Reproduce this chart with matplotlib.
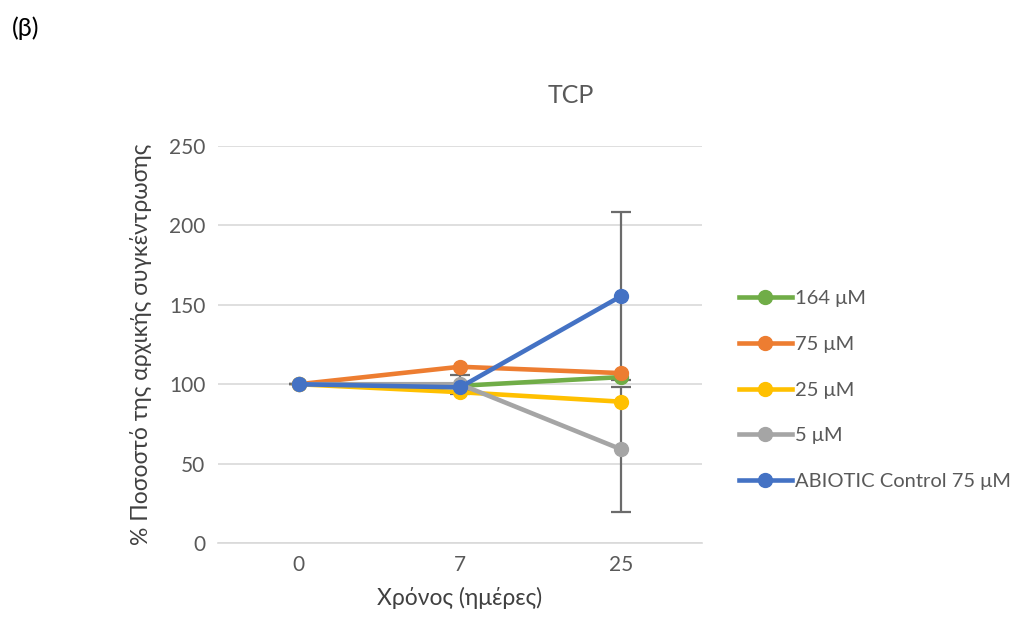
import matplotlib
matplotlib.use("Agg")
import matplotlib.pyplot as plt
import numpy as np

plt.rcParams['font.family'] = ['Lato', 'DejaVu Sans']

days = ["0", "7", "25"]
labels = ["164 μM", "75 μM", "25 μM", "5 μM", "ABIOTIC Control 75 μM"]
green = [100, 99, 104.5]
orange = [100, 111, 107]
yellow = [100, 95, 89]
gray = [100, 100, 59]
blue = [100, 98, 155.5]
gray_err = [0, 6, 39.5]
blue_err = [0, 2, 53]
colors = ["#70AD47", "#ED7D31", "#FFC000", "#A5A5A5", "#4472C4"]

fig = plt.figure(figsize=(10.26, 6.27), dpi=100)
ax = fig.add_axes([0.2125, 0.134, 0.4715, 0.633])

x = np.arange(len(days))
series = [green, orange, yellow, gray, blue]
errs = [None, None, None, gray_err, blue_err]
for vals, err, c, lab in zip(series, errs, colors, labels):
    ax.plot(x, vals, color=c, lw=3.3, marker='o', ms=10, label=lab, zorder=3)
for vals, err in zip(series, errs):
    if err is not None:
        ax.errorbar(x, vals, yerr=err, fmt='none', ecolor='#6b6b6b', elinewidth=1.6,
                    capsize=7, capthick=1.6, zorder=2)

ax.set_xlim(-0.5, 2.5)
ax.set_ylim(0, 250)
ax.set_yticks(range(0, 251, 50))
ax.set_xticks(x)
ax.set_xticklabels(days)
ax.grid(axis='y', color='#d9d9d9', lw=1.2)
ax.set_axisbelow(True)
for s in ['top', 'right', 'left']:
    ax.spines[s].set_visible(False)
ax.spines['bottom'].set_color('#d9d9d9')
ax.spines['bottom'].set_linewidth(1.2)
ax.tick_params(length=0, labelsize=15, colors='#595959', pad=9)

ax.set_ylabel("% Ποσοστό της αρχικής συγκέντρωσης", fontsize=16.5, color='#404040', labelpad=12)
ax.set_xlabel("Χρόνος (ημέρες)", fontsize=16.5, color='#404040', labelpad=8)

fig.text(0.556, 0.848, "TCP", fontsize=18, color='#595959', ha='center', va='center')
fig.text(0.012, 0.955, "(β)", fontsize=18, color='black', ha='left', va='center')

leg = ax.legend(loc='center left', bbox_to_anchor=(1.04, 0.385), frameon=False,
                fontsize=14.5, labelcolor='#595959', handlelength=2.6,
                handletextpad=0.15, labelspacing=1.42)

fig.savefig("out.png", dpi=100)
